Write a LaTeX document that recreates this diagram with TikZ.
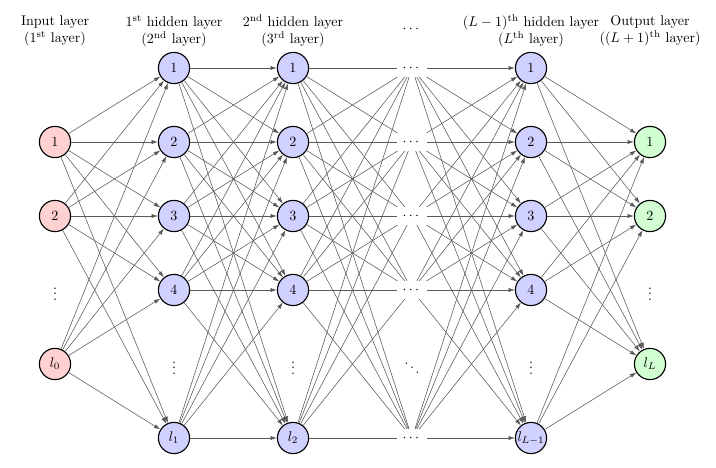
\documentclass[tikz,border=0pt]{standalone}
\usepackage{amsmath}
\usetikzlibrary{arrows.meta}
\tikzset{
  neuron/.style={circle, draw, thick, minimum size=0.78cm, inner sep=0pt},
  inneuron/.style={neuron, fill=red!18},
  hidneuron/.style={neuron, fill=blue!18},
  outneuron/.style={neuron, fill=green!18},
  dotsnode/.style={inner sep=4pt},
  layerlabel/.style={align=center},
  link/.style={black!65, line width=0.4pt, -{Latex[length=4.5pt,width=3pt]}},
  plainlink/.style={black!65, line width=0.4pt},
}
\begin{document}
\begin{tikzpicture}[x=2.975cm, y=1.85cm]
  \useasboundingbox (-0.4622,-0.3919) rectangle (5.5546,5.919);

  % Input layer
  \node[inneuron] (I1) at (0,4) {$1$};
  \node[inneuron] (I2) at (0,3) {$2$};
  \node (Idots) at (0,2) {$\vdots$};
  \node[inneuron] (I3) at (0,1) {$l_0$};

  % 1st hidden layer
  \node[hidneuron] (A1) at (1,5) {$1$};
  \node[hidneuron] (A2) at (1,4) {$2$};
  \node[hidneuron] (A3) at (1,3) {$3$};
  \node[hidneuron] (A4) at (1,2) {$4$};
  \node (Adots) at (1,1) {$\vdots$};
  \node[hidneuron] (A5) at (1,0) {$l_1$};

  % 2nd hidden layer
  \node[hidneuron] (B1) at (2,5) {$1$};
  \node[hidneuron] (B2) at (2,4) {$2$};
  \node[hidneuron] (B3) at (2,3) {$3$};
  \node[hidneuron] (B4) at (2,2) {$4$};
  \node (Bdots) at (2,1) {$\vdots$};
  \node[hidneuron] (B5) at (2,0) {$l_2$};

  % Skipped layers
  \node[dotsnode] (D1) at (3,5) {$\cdots$};
  \node[dotsnode] (D2) at (3,4) {$\cdots$};
  \node[dotsnode] (D3) at (3,3) {$\cdots$};
  \node[dotsnode] (D4) at (3,2) {$\cdots$};
  \node (Ddots) at (3,1) {$\ddots$};
  \node[dotsnode] (D5) at (3,0) {$\cdots$};

  % (L-1)th hidden layer
  \node[hidneuron] (C1) at (4,5) {$1$};
  \node[hidneuron] (C2) at (4,4) {$2$};
  \node[hidneuron] (C3) at (4,3) {$3$};
  \node[hidneuron] (C4) at (4,2) {$4$};
  \node (Cdots) at (4,1) {$\vdots$};
  \node[hidneuron] (C5) at (4,0) {$l_{L-1}$};

  % Output layer
  \node[outneuron] (O1) at (5,4) {$1$};
  \node[outneuron] (O2) at (5,3) {$2$};
  \node (Odots) at (5,2) {$\vdots$};
  \node[outneuron] (O3) at (5,1) {$l_L$};

  % Layer labels
  \node[layerlabel] (Lin) at (0,5.5) {Input layer\\(1$^{\text{st}}$ layer)};
  \node[layerlabel] (LA) at (1,5.5) {1$^{\text{st}}$ hidden layer\\(2$^{\text{nd}}$ layer)};
  \node[layerlabel] (LB) at (2,5.5) {2$^{\text{nd}}$ hidden layer\\(3$^{\text{rd}}$ layer)};
  \node (LD) at (3,5.527) {$\cdots$};
  \node[layerlabel] (LC) at (4,5.5) {$(L-1)^{\text{th}}$ hidden layer\\($L^{\text{th}}$ layer)};
  \node[layerlabel] (Lout) at (5,5.5) {Output layer\\($(L+1)^{\text{th}}$ layer)};

  % Connections
  \foreach \i in {1,2,3}
    \foreach \j in {1,...,5}
      \draw[link] (I\i) -- (A\j);
  \foreach \i in {1,...,5}
    \foreach \j in {1,...,5}
      \draw[link] (A\i) -- (B\j);
  \foreach \i in {1,...,5}
    \foreach \j in {1,...,5}
      \draw[plainlink] (B\i) -- (D\j);
  \foreach \i in {1,...,5}
    \foreach \j in {1,...,5}
      \draw[link] (D\i) -- (C\j);
  \foreach \i in {1,...,5}
    \foreach \j in {1,2,3}
      \draw[link] (C\i) -- (O\j);
\end{tikzpicture}
\end{document}
